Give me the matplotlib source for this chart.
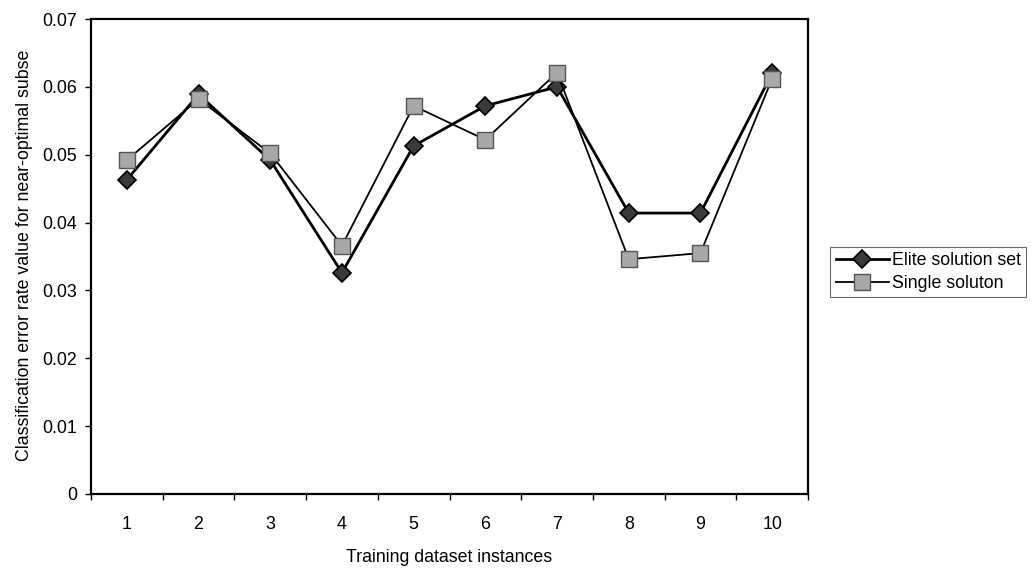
import matplotlib
matplotlib.use("Agg")
import matplotlib.pyplot as plt
import numpy as np

plt.rcParams['font.family'] = ['Liberation Sans', 'DejaVu Sans']

# data
instances = [1, 2, 3, 4, 5, 6, 7, 8, 9, 10]
elite = [0.0463, 0.0589, 0.0492, 0.0326, 0.0513, 0.0572, 0.0600, 0.0414, 0.0414, 0.0620]
single = [0.0492, 0.0582, 0.0502, 0.0366, 0.0572, 0.0522, 0.0621, 0.0346, 0.0355, 0.0612]
series_names = ["Elite solution set", "Single soluton"]
y_ticks = [0, 0.01, 0.02, 0.03, 0.04, 0.05, 0.06, 0.07]
y_tick_labels = ["0", "0.01", "0.02", "0.03", "0.04", "0.05", "0.06", "0.07"]

fs = 12.8

fig = plt.figure(figsize=(10.34, 5.68), dpi=100)
ax = fig.add_axes([91 / 1034, 1 - 494 / 568, (808 - 91) / 1034, (494 - 19) / 568])

x = np.array(instances)
l1, = ax.plot(x, elite, color='black', lw=2.0, marker='D', markersize=9,
              markerfacecolor='#3a3a3a', markeredgecolor='black', markeredgewidth=1.2,
              zorder=3)
l2, = ax.plot(x, single, color='black', lw=1.3, marker='s', markersize=11,
              markerfacecolor='#a8a8a8', markeredgecolor='#555555', markeredgewidth=1.0,
              zorder=4)

ax.set_xlim(0.5, 10.5)
ax.set_ylim(0, 0.07)
ax.set_yticks(y_ticks)
ax.set_yticklabels(y_tick_labels)
ax.set_xticks(x)
ax.set_xticklabels([str(i) for i in instances])
ax.set_xticks(np.arange(0.5, 11, 1), minor=True)
ax.tick_params(axis='x', which='major', length=0, pad=16, labelsize=fs)
ax.tick_params(axis='x', which='minor', length=4, direction='out', width=1)
ax.tick_params(axis='y', which='major', length=4, direction='out', width=1, pad=6,
               labelsize=fs)

for s in ax.spines.values():
    s.set_linewidth(1.6)
    s.set_color('black')

ax.set_xlabel("Training dataset instances", fontsize=fs, labelpad=11)
fig.text(25 / 1034, 1 - 255 / 568,
         "Classification error rate value for near-optimal subse",
         rotation=90, ha='center', va='center', fontsize=fs)

leg = fig.legend([l1, l2], series_names, loc='center',
                 bbox_to_anchor=(928 / 1034, 1 - 272 / 568),
                 fancybox=False, frameon=True, edgecolor='#444444',
                 fontsize=fs, handlelength=3.0, handletextpad=0.15,
                 borderpad=0.3, labelspacing=0.35, borderaxespad=0)
leg.get_frame().set_linewidth(0.8)

fig.savefig("out.png", dpi=100)
